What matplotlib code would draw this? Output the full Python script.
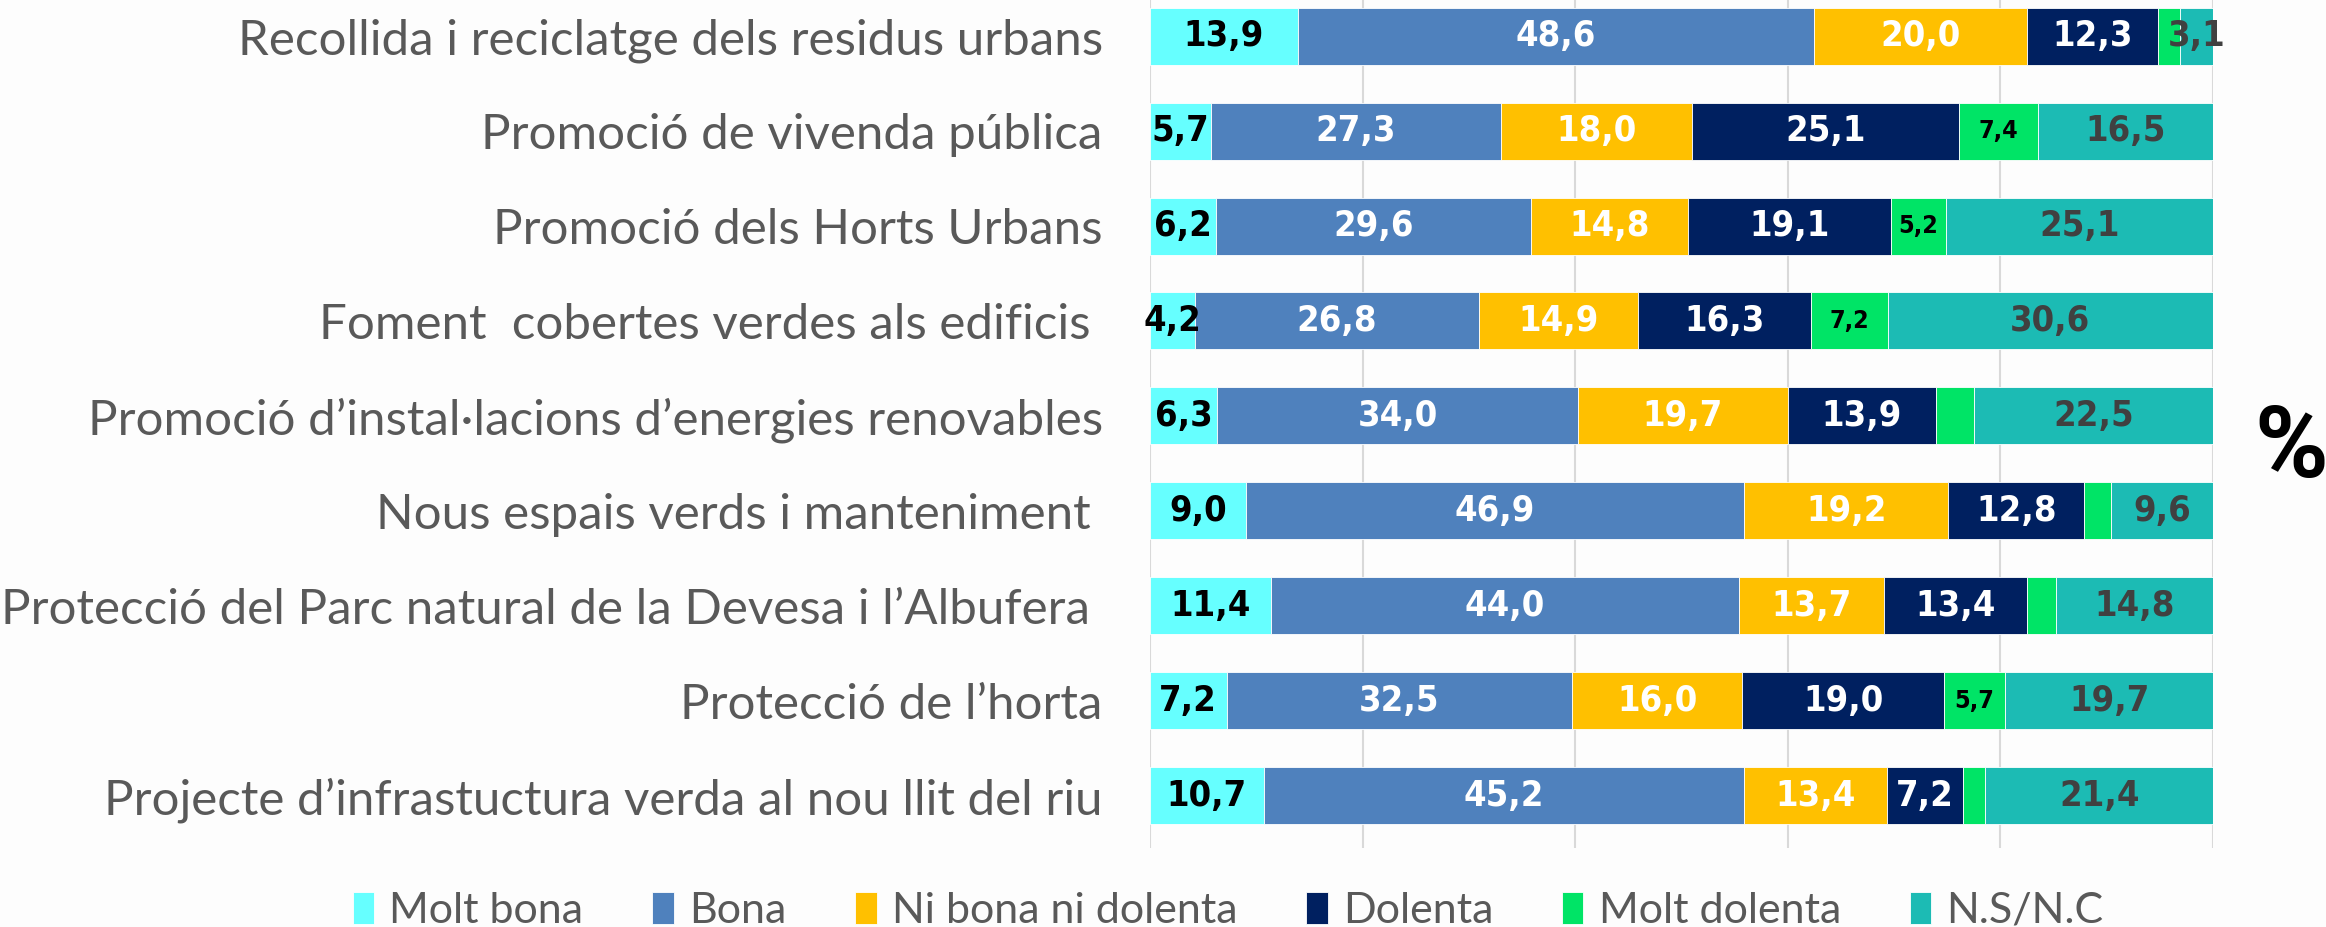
import matplotlib
matplotlib.use("Agg")
import matplotlib.pyplot as plt
from matplotlib import font_manager
import numpy as np

# Survey categories (top to bottom)
categories = [
    "Recollida i reciclatge dels residus urbans",
    "Promoció de vivenda pública",
    "Promoció dels Horts Urbans",
    "Foment  cobertes verdes als edificis ",
    "Promoció d\u2019instal·lacions d\u2019energies renovables",
    "Nous espais verds i manteniment ",
    "Protecció del Parc natural de la Devesa i l\u2019Albufera ",
    "Protecció de l\u2019horta",
    "Projecte d\u2019infrastuctura verda al nou llit del riu",
]

# Percentages per answer
molt_bona = [13.9, 5.7, 6.2, 4.2, 6.3, 9.0, 11.4, 7.2, 10.7]
bona = [48.6, 27.3, 29.6, 26.8, 34.0, 46.9, 44.0, 32.5, 45.2]
ni_bona = [20.0, 18.0, 14.8, 14.9, 19.7, 19.2, 13.7, 16.0, 13.4]
dolenta = [12.3, 25.1, 19.1, 16.3, 13.9, 12.8, 13.4, 19.0, 7.2]
molt_dolenta = [2.1, 7.4, 5.2, 7.2, 3.6, 2.5, 2.7, 5.7, 2.1]
ns_nc = [3.1, 16.5, 25.1, 30.6, 22.5, 9.6, 14.8, 19.7, 21.4]

series_names = ["Molt bona", "Bona", "Ni bona ni dolenta", "Dolenta", "Molt dolenta", "N.S/N.C"]

# Look for a narrow/condensed bold font for the numbers
num_prop = None
for f in font_manager.fontManager.ttflist:
    tag = (f.name + " " + f.fname).lower()
    if ("narrow" in tag or "condensed" in tag or f.stretch in ("condensed", "semi-condensed")) \
            and (f.weight in ("bold", 700) or "bold" in f.fname.lower()) and "oblique" not in tag \
            and "italic" not in tag:
        num_prop = f.fname
        break

if num_prop:
    num_kw = dict(fontproperties=font_manager.FontProperties(fname=num_prop))
    num_size, small_size = 26, 18
else:
    num_kw = dict(family=["Roboto", "DejaVu Sans"], fontweight="bold")
    num_size, small_size = 26, 18
label_font = ["Lato", "DejaVu Sans"]

series = [molt_bona, bona, ni_bona, dolenta, molt_dolenta, ns_nc]
colors = ["#66FFFF", "#4F81BD", "#FFC000", "#002060", "#00E466", "#1CBBB4"]
text_colors = ["black", "white", "white", "white", "black", "#404040"]
min_label = [0, 0, 0, 0, 5, 0]

fig = plt.figure(figsize=(23.26, 9.27), dpi=100)
fig.patch.set_facecolor("#FDFDFD")
ax = fig.add_axes([0.4944, 0.0852, 0.4570, 0.9148])
ax.set_facecolor("#FDFDFD")

y = np.arange(len(categories))
left = np.zeros(len(categories))
handles = []
for name, vals, col, tcol, thr in zip(series_names, series, colors, text_colors, min_label):
    vals = np.array(vals)
    h = ax.barh(y, vals, left=left, height=0.6, color=col, edgecolor="white",
                linewidth=0.6, label=name, zorder=2)
    handles.append(h)
    for yi, (l, v) in enumerate(zip(left, vals)):
        if v < thr:
            continue
        small = name == "Molt dolenta"
        t = ax.text(l + v / 2, yi, f"{v:.1f}".replace(".", ","), ha="center", va="center",
                    color=tcol, zorder=3, **num_kw)
        t.set_fontsize(small_size if small else num_size)
    left += vals

ax.set_xlim(0, 100)
ax.set_ylim(8.55, -0.38)
ax.set_xticks(np.arange(0, 101, 20))
ax.set_xticklabels([])
ax.tick_params(axis="x", length=0)
ax.grid(axis="x", color="#D9D9D9", linewidth=1.5, zorder=0)
ax.set_yticks(y)
ax.set_yticklabels(categories, fontsize=35.5, color="#595959", family=label_font)
ax.tick_params(axis="y", length=0, pad=34)
for s in ax.spines.values():
    s.set_visible(False)

fig.text(0.985, 0.515, "%", fontsize=72, fontweight="bold", ha="center", va="center",
         family=["Roboto", "DejaVu Sans"])

fig.legend(handles=handles, loc="lower center", bbox_to_anchor=(0.528, -0.045), ncol=6,
           frameon=False, labelcolor="#595959", handlelength=0.5,
           handleheight=0.75, handletextpad=0.35, columnspacing=1.6,
           prop={"family": label_font, "size": 31})

fig.savefig("out.png", dpi=100, facecolor=fig.get_facecolor())
